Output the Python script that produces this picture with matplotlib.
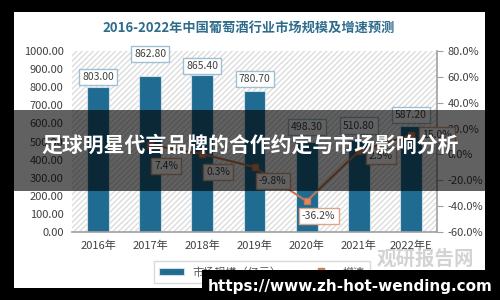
import matplotlib.pyplot as plt
from matplotlib.patches import Rectangle
from matplotlib.ticker import FuncFormatter

plt.rcParams['font.family'] = ['Noto Sans CJK SC', 'DejaVu Sans']

years = ["2016年", "2017年", "2018年", "2019年", "2020年", "2021年", "2022年E"]
market = [803.00, 862.80, 865.40, 780.70, 498.30, 510.80, 587.20]
growth_years = ["2017年", "2018年", "2019年", "2020年", "2021年", "2022年E"]
growth = [7.4, 0.3, -9.8, -36.2, 2.5, 15.0]

title = "2016-2022年中国葡萄酒行业市场规模及增速预测"
overlay_text = "足球明星代言品牌的合作约定与市场影响分析"
url_text = "https://www.zh-hot-wending.com"

bar_color = "#1F6B92"
line_color = "#C9774F"
text_gray = "#404040"

fig = plt.figure(figsize=(5, 3), dpi=100, facecolor="black")

# white chart panel inside the black frame
fig.patches.append(Rectangle((14 / 500, 12 / 300), 471 / 500, 276 / 300,
                             transform=fig.transFigure, facecolor="white",
                             edgecolor="none", zorder=-5))

ax = fig.add_axes([72 / 500, 68 / 300, 365 / 500, 181 / 300])
ax.set_facecolor("none")
x = range(len(years))

# hatched plot background
ax.add_patch(Rectangle((0, 0), 1, 1, transform=ax.transAxes, facecolor="white",
                       edgecolor="#dcdcdc", hatch="//////", linewidth=0, zorder=0))

bars = ax.bar(x, market, width=0.42, color=bar_color, edgecolor="#cfdde6",
              linewidth=0.8, zorder=2, label="市场规模（亿元）")
ax.set_ylim(0, 1000)
ax.set_xlim(-0.5, len(years) - 0.5)
ax.set_yticks(range(0, 1001, 100))
ax.yaxis.set_major_formatter(FuncFormatter(lambda v, p: f"{v:.2f}"))
ax.set_xticks(list(x))
ax.set_xticklabels(years)
ax.tick_params(axis="both", length=0, labelsize=8, colors=text_gray, pad=6)
for s in ["top", "right", "left"]:
    ax.spines[s].set_visible(False)
ax.spines["bottom"].set_color("#a0a0a0")
ax.spines["bottom"].set_linewidth(1.2)

bar_offsets = [10, 22, 9, 12, 15, 14, 11]
for xi, v, off in zip(x, market, bar_offsets):
    ax.annotate(f"{v:.2f}", (xi, v), xytext=(0, off), textcoords="offset pixels",
                ha="center", va="center", fontsize=7.5, color=text_gray, zorder=5,
                bbox=dict(boxstyle="square,pad=0.3", fc="white", ec="#9fbfd2", lw=1))

ax2 = ax.twinx()
gx = [years.index(y) for y in growth_years]
ax2.plot(gx, growth, color=line_color, lw=1.5, marker="s", markersize=4,
         markerfacecolor="#E08A63", markeredgecolor=line_color, zorder=4,
         label="增速")
ax2.set_ylim(-60, 80)
ax2.set_yticks(range(-60, 81, 20))
ax2.yaxis.set_major_formatter(FuncFormatter(lambda v, p: f"{v:.1f}%"))
ax2.tick_params(axis="y", length=4, color="#a0a0a0", labelsize=8, labelcolor=text_gray)
for s in ["top", "left", "bottom"]:
    ax2.spines[s].set_visible(False)
ax2.spines["right"].set_color("#a0a0a0")
ax2.spines["right"].set_linewidth(1.2)

growth_offsets = [(16, -21), (16, -18), (18, -14), (12, -15), (22, -5), (26, 0)]
for xi, v, (dx, dy) in zip(gx, growth, growth_offsets):
    ax2.annotate(f"{v:.1f}%", (xi, v), xytext=(dx, dy), textcoords="offset pixels",
                 ha="center", va="center", fontsize=7.5, color=text_gray, zorder=6,
                 bbox=dict(boxstyle="square,pad=0.3", fc="white", ec="#e0a488", lw=1))

fig.text(249 / 500, 1 - 29 / 300, title, ha="center", va="center", fontsize=9.5,
         fontweight="bold", color="#2E6C8C")

h1, l1 = ax.get_legend_handles_labels()
h2, l2 = ax2.get_legend_handles_labels()
fig.legend(h1 + h2, l1 + l2, loc="center left", bbox_to_anchor=(148 / 500, 1 - 272 / 300),
           ncol=2, fontsize=8, frameon=True, fancybox=False, edgecolor="#d0d0d0",
           labelcolor="#595959", handlelength=2.2, columnspacing=2.5,
           borderpad=0.5)

# watermark
fig.text(425 / 500, 1 - 259 / 300, "观研报告网", ha="center", va="center",
         fontsize=14, fontweight="bold", color="#c8c8c8", alpha=0.8)
fig.text(425 / 500, 1 - 275 / 300, "chinabaogao.com", ha="center", va="center",
         fontsize=8, color="#c8c8c8", alpha=0.8)

# translucent overlay band with headline
fig.patches.append(Rectangle((0, 1 - 191 / 300), 1, 81 / 300, transform=fig.transFigure,
                             facecolor="black", alpha=0.62, edgecolor="none", zorder=10))
fig.text(0.5, 1 - 145 / 300, overlay_text, ha="center", va="center", fontsize=15,
         fontweight="bold", color="white", zorder=11)

# url box bottom right
fig.patches.append(Rectangle((202 / 500, 0), 298 / 500, 30 / 300, transform=fig.transFigure,
                             facecolor="black", edgecolor="none", zorder=10))
fig.text(350 / 500, 1 - 287 / 300, url_text, ha="center", va="center", fontsize=11,
         fontweight="bold", color="white", family="DejaVu Sans", zorder=11)

fig.savefig("out.png", dpi=100, facecolor="black")
